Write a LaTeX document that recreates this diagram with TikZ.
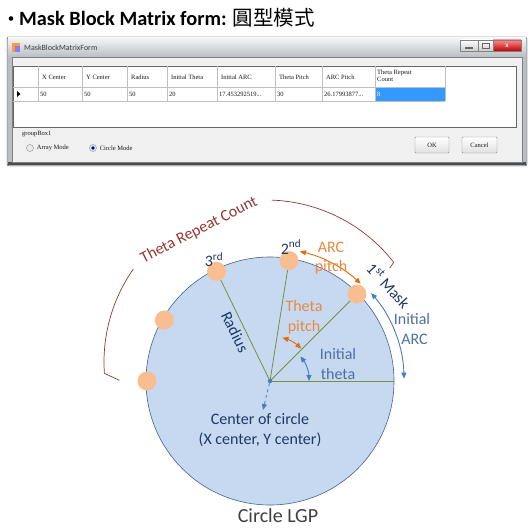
\documentclass[tikz,border=0pt]{standalone}
\usepackage{fontspec}
\setmainfont{Carlito}
\newfontfamily\cjkfont{Noto Sans CJK TC}
\newfontfamily\formfont{Liberation Serif}
\usetikzlibrary{arrows.meta, positioning, calc}

\definecolor{lgpfill}{HTML}{C6D9F0}
\definecolor{lgpedge}{HTML}{41628A}
\definecolor{maskdot}{HTML}{F9BE8F}
\definecolor{spokegreen}{HTML}{76923C}
\definecolor{pitchorange}{HTML}{E46C0A}
\definecolor{pitchtext}{HTML}{EA8840}
\definecolor{initblue}{HTML}{4A7EBB}
\definecolor{inittext}{HTML}{4F6FA0}
\definecolor{navytext}{HTML}{1F3864}
\definecolor{repeatred}{HTML}{943634}
\definecolor{formbg}{HTML}{F0F0F0}
\definecolor{glassgray}{HTML}{B9BEC4}
\definecolor{selblue}{HTML}{3399FF}

\begin{document}
\begin{tikzpicture}[
  x=1pt, y=1pt,
  maskdot/.style={circle, fill=maskdot, minimum size=19pt, inner sep=0pt},
  spoke/.style={draw=spokegreen, line width=0.8pt},
  pitcharrow/.style={{Triangle[length=6pt,width=5pt]}-{Triangle[length=6pt,width=5pt]}, draw=pitchorange, line width=0.9pt},
  initarrow/.style={{Triangle[length=6pt,width=5pt]}-{Triangle[length=6pt,width=5pt]}, draw=initblue, line width=0.9pt},
  lbl/.style={font=\fontsize{16}{19.5}\selectfont, align=center, inner sep=1pt},
  gridtext/.style={font=\formfont\fontsize{6.5}{6.7}\selectfont, text=black!90, anchor=west, inner sep=0pt, align=left},
  gridline/.style={draw=black!25, line width=0.4pt},
  formbutton/.style={draw=black!45, top color=white, bottom color=black!12, rounded corners=1pt},
  radio/.style={circle, draw=black!45, fill=black!8, minimum size=7pt, inner sep=0pt}
]
\useasboundingbox (0,0) rectangle (532,-529);

% heading
\node[font=\bfseries\fontsize{20.3}{22}\selectfont, anchor=west, inner sep=0pt] (title) at (19,-18)
  {Mask Block Matrix form: {\cjkfont\mdseries\fontsize{20.5}{22}\selectfont 圓型模式}};
\fill (11,-18.5) circle[radius=2.3];

% form screenshot
\draw[draw=black!75, fill=glassgray, rounded corners=2pt] (7,-37) rectangle (527,-166);
\shade[top color=white!85!glassgray, bottom color=glassgray] (8,-38) rectangle (526,-57);
\fill[black!70] (8,-162) rectangle (526,-165);
\draw[draw=black!50, fill=formbg] (12,-57) rectangle (522,-162);
\fill[orange!80] (12,-43) rectangle (20,-52);
\fill[blue!50] (15,-46) rectangle (20,-52);
\node[font=\fontsize{8}{9}\selectfont, text=black!75, anchor=west, inner sep=0pt] (formtitle) at (24,-47.5) {MaskBlockMatrixForm};
\draw[draw=black!50, top color=white, bottom color=black!20] (460,-40) rectangle (478,-51);
\draw[draw=black!50, top color=white, bottom color=black!20] (478,-40) rectangle (493,-51);
\draw[draw=black!50, top color=red!45, bottom color=red!75!black] (493,-40) rectangle (521,-51);
\draw[black!60, line width=1.2pt] (465,-48) -- (473,-48);
\draw[black!60, line width=0.8pt] (482,-43) rectangle (489,-48.5);
\node[font=\bfseries\fontsize{7}{7}\selectfont, text=white, inner sep=0pt] (closex) at (507,-45.5) {x};

% data grid
\draw[draw=black!60, fill=white] (13,-66) rectangle (516,-127);
\fill[selblue] (375,-87) rectangle (445,-101);
\foreach \gx in {38,82,127,167,217,275,322,375,445}
  \draw[gridline] (\gx,-66) -- (\gx,-101);
\draw[gridline] (13,-87) -- (445,-87);
\draw[gridline] (13,-101) -- (445,-101);
\fill[black] (17,-91) -- (20.5,-94) -- (17,-97) -- cycle;
\foreach \gx/\head in {38/X Center, 82/Y Center, 127/Radius, 167/Initial Theta, 217/Initial ARC, 275/Theta Pitch, 322/ARC Pitch}
  \node[gridtext] at (\gx+4,-77) {\head};
\node[gridtext] (repeathead) at (377,-76) {Theta Repeat\\Count};
\foreach \gx/\val in {38/50, 82/50, 127/50, 167/20, 275/30}
  \node[gridtext] at (\gx+2,-94) {\val};
\node[gridtext] (arcinit) at (219,-94) {17.453292519...};
\node[gridtext] (arcpitchval) at (324,-94) {26.17993877...};
\node[gridtext, text=white] (repeatval) at (377,-94) {8};

% mode group and buttons
\node[gridtext] (groupbox) at (22,-134) {groupBox1};
\node[radio] (arraymode) at (30,-148) {};
\node[gridtext, right=3pt of arraymode] (arraytext) {Array Mode};
\node[radio] (circlemode) at (93,-148) {};
\fill[blue!60!black] (circlemode) circle[radius=1.8];
\node[gridtext, right=3pt of circlemode] (circletext) {Circle Mode};
\draw[formbutton] (415,-137) rectangle (449,-153);
\node[gridtext, anchor=center] (okbtn) at (432,-145) {OK};
\draw[formbutton] (462,-137) rectangle (497,-153);
\node[gridtext, anchor=center] (cancelbtn) at (479.5,-145) {Cancel};

% circle LGP
\coordinate (c) at (270,-381);
\draw[draw=lgpedge, fill=lgpfill, line width=0.6pt] (c) circle[radius=124];

\node[maskdot] (m1) at ($(c)+(45:123)$) {};
\node[maskdot] (m2) at ($(c)+(81:122)$) {};
\node[maskdot] (m3) at ($(c)+(116:122)$) {};
\node[maskdot] (m4) at ($(c)+(150:122)$) {};
\node[maskdot] (m5) at ($(c)+(180:123)$) {};
\coordinate (e0) at ($(c)+(0:124)$);

\draw[spoke] (c) -- (m1);
\draw[spoke] (c) -- (m2);
\draw[spoke] (c) -- (m3);
\draw[spoke] (c) -- (e0);

\node[circle, fill=initblue, minimum size=4.5pt, inner sep=0pt] (cdot) at (c) {};
\coordinate (cend) at (263,-410);
\draw[initblue, dashed, line width=0.8pt, -{Triangle[length=6pt,width=5pt]}] (cdot) -- (cend);

% pitch and initial arrows
\coordinate (ap1) at ($(c)+(77:133)$);
\coordinate (ia1) at ($(c)+(41:134)$);
\coordinate (tp1) at ($(c)+(74:45)$);
\coordinate (it1) at ($(c)+(39:39)$);
\draw[pitcharrow] (ap1) arc[start angle=77, end angle=47, radius=133];
\draw[initarrow] (ia1) arc[start angle=41, end angle=1, radius=134];
\draw[pitcharrow] (tp1) arc[start angle=74, end angle=46, radius=45];
\draw[initarrow] (it1) arc[start angle=39, end angle=0, radius=39];

% repeat count arc
\coordinate (rc) at (266,-362);
\coordinate (ra) at ($(rc)+(184:162)$);
\coordinate (rb) at ($(rc)+(88:162)$);
\draw[repeatred, line width=0.7pt] ($(ra)+(15,-7)$) -- (ra) arc[start angle=184, end angle=145, radius=162];
\draw[repeatred, line width=0.7pt] (rb) arc[start angle=88, end angle=38, radius=162] -- ++(-4,-6);
\node[lbl, text=repeatred, rotate=27] (repeat) at (199,-230) {Theta Repeat Count};

% labels
\node[lbl, text=navytext] (lbl2) at (291,-247) {2\textsuperscript{nd}};
\node[lbl, text=navytext] (lbl3) at (214,-260) {3\textsuperscript{rd}};
\node[lbl, text=navytext, rotate=-47] (lbl1) at (389,-285) {1\textsuperscript{st} Mask};
\node[lbl, text=pitchtext] (arctext) at (331,-258) {ARC\\pitch};
\node[lbl, text=pitchtext] (thetatext) at (304,-317) {Theta\\pitch};
\node[lbl, text=inittext] (initarc) at (412,-329) {Initial\\\hspace*{5pt}ARC};
\node[lbl, text=inittext] (inittheta) at (338,-364) {Initial\\theta};
\node[lbl, text=navytext, rotate=-64] (radius) at (235,-332) {Radius};
\node[lbl, text=navytext] (centertext) at (260,-430) {Center of circle\\(X center, Y center)};
\node[font=\fontsize{20}{22}\selectfont, text=black!75, inner sep=0pt] (lgp) at (278,-516) {Circle LGP};

\end{tikzpicture}
\end{document}
